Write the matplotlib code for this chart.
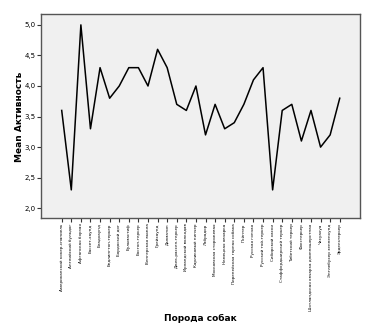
import matplotlib.pyplot as plt
import numpy as np

breeds = ['Американский кокер-спаниель', 'Английский бульдог', 'Афганская борзая',
          'Бассет-хаунд', 'Бладхаунд', 'Бедлингтон-терьер', 'Бордоский дог',
          'Бульмастиф', 'Бостон-терьер', 'Венгерская выжла', 'Грейхаунд', 'Далматин',
          'Джек-рассел-терьер', 'Ирландский волкодав', 'Карликовый пинчер', 'Лабрадор',
          'Московская сторожевая', 'Немецкая овчарка', 'Пиренейская горная собака',
          'Пойнтер', 'Русская гончая', 'Русский той-терьер', 'Сибирский хаски',
          'Стаффордширский терьер', 'Тибетский терьер', 'Фокстерьер',
          'Шотландская овчарка длинношерстная', 'Чихуахуа', 'Энтлебухер зенненхунд',
          'Эрдельтерьер']
activity = [3.6, 2.3, 5.0, 3.3, 4.3, 3.8, 4.0, 4.3, 4.3, 4.0,
            4.6, 4.3, 3.7, 3.6, 4.0, 3.2, 3.7, 3.3, 3.4, 3.7,
            4.1, 4.3, 2.3, 3.6, 3.7, 3.1, 3.6, 3.0, 3.2, 3.8]
yticks = [2.0, 2.5, 3.0, 3.5, 4.0, 4.5, 5.0]
ytick_labels = ['2,0', '2,5', '3,0', '3,5', '4,0', '4,5', '5,0']

fig = plt.figure(figsize=(3.71, 3.31), dpi=100)
ax = fig.add_axes([0.1105, 0.3414, 0.8595, 0.6148])
ax.set_facecolor('#f0f0f0')

x = np.arange(len(breeds))
ax.plot(x, activity, color='black', linewidth=1.1)

ax.set_xlim(-2.16, len(breeds) - 1 + 2.1)
ax.set_ylim(1.84, 5.17)
ax.set_xticks(x)
ax.set_xticklabels(breeds, rotation=90, fontsize=3.0)
ax.set_yticks(yticks)
ax.set_yticklabels(ytick_labels, fontsize=5)
ax.tick_params(axis='both', direction='out', length=3, width=0.8, color='#333333', pad=1)

for s in ax.spines.values():
    s.set_color('#555555')
    s.set_linewidth(1.0)

fig.text(20 / 371, 1 - 117 / 331, 'Mean Активность', rotation=90, fontsize=6.5,
         fontweight='bold', ha='center', va='center')
fig.text(200.5 / 371, 1 - 318 / 331, 'Порода собак', fontsize=6.5,
         fontweight='bold', ha='center', va='center')

plt.savefig('out.png', dpi=100)
plt.close()
